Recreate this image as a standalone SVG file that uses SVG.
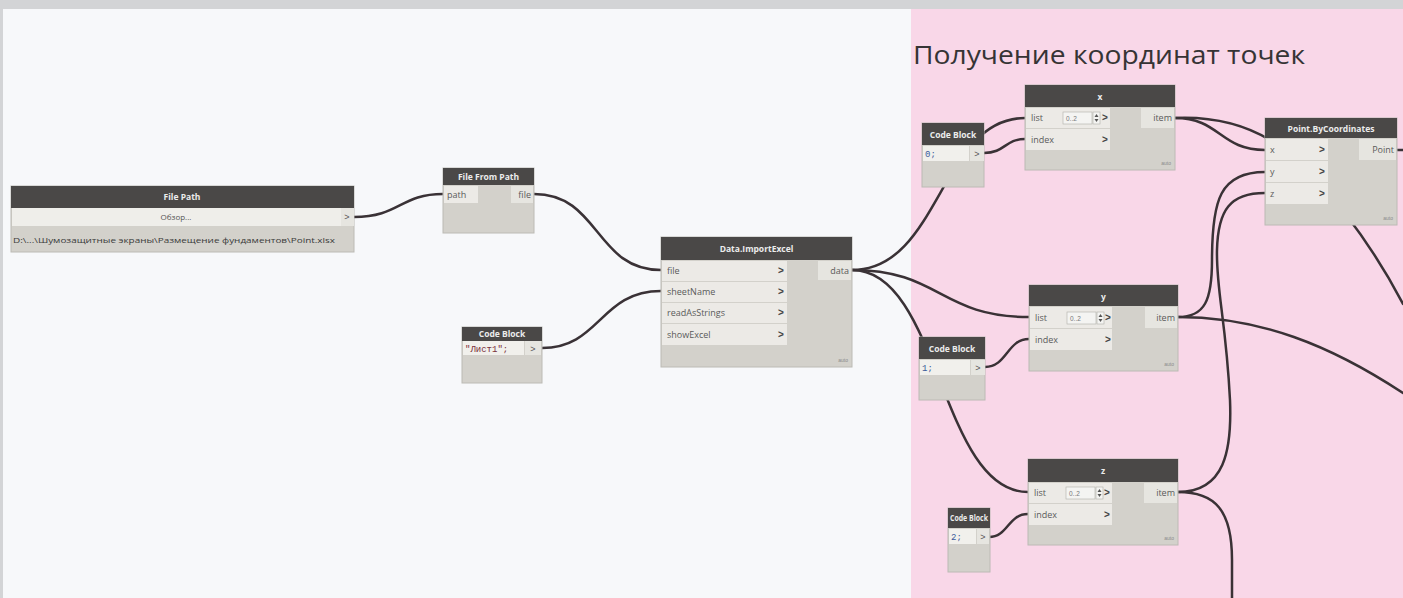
<svg xmlns="http://www.w3.org/2000/svg" width="1403" height="598" viewBox="0 0 1403 598">
<style>
.hdr{fill:#4a4847}
.body{fill:#d3d1cb;stroke:#bcbab4;stroke-width:1}
.port{fill:#eceae6}
.outp{fill:#e6e5e0}
.ht{font-family:"Open Sans","Liberation Sans",sans-serif;font-size:8.5px;font-weight:bold;fill:#ececec;text-anchor:middle}
.pt{font-family:"Open Sans","Liberation Sans",sans-serif;font-size:9px;fill:#5a5a5a}
.pe{font-family:"Open Sans","Liberation Sans",sans-serif;font-size:9px;fill:#5a5a5a;text-anchor:end}
.chev{font-family:"Liberation Sans",sans-serif;font-size:10px;font-weight:bold;fill:#444;text-anchor:middle}
.auto{font-family:"Liberation Sans",sans-serif;font-size:5px;fill:#8a8a8a;text-anchor:end}
.code{font-family:"Liberation Mono","DejaVu Sans Mono",monospace;font-size:9px;fill:#3a5a9a}
.field{fill:#f4f4f2;stroke:#b0aea8;stroke-width:0.6}
.wire{fill:none;stroke:#3a3236;stroke-width:2.5;stroke-linecap:round}
</style>
<rect x="0" y="0" width="1403" height="598" fill="#d3d4d6"/>
<rect x="3" y="9" width="908" height="589" fill="#f7f8fa"/>
<rect x="911" y="9" width="492" height="589" fill="#f9d7e8"/>
<text x="913" y="64" font-family="Open Sans, Liberation Sans, sans-serif" font-size="26" fill="#363435" textLength="392" lengthAdjust="spacingAndGlyphs">Получение координат точек</text>

<g id="connectors">
<path class="wire" d="M354,217 C400,217 400,194 443,194"/>
<path class="wire" d="M534,194 C600,194 595,270 661,270"/>
<path class="wire" d="M542,348 C600,348 600,291 661,291"/>
<path class="wire" d="M852,270 C940,270 940,118 1025,118"/>
<path class="wire" d="M984,153 C1005,153 1005,139 1025,139"/>
<path class="wire" d="M852,270 C940,270 940,317 1029,317"/>
<path class="wire" d="M852,270 C940,270 940,492 1028,492"/>
<path class="wire" d="M985,367 C1007,367 1007,339 1029,339"/>
<path class="wire" d="M989,537 C1008,537 1008,514 1028,514"/>
<path class="wire" d="M1175,118 C1220,118 1220,150 1265,150"/>
<path class="wire" d="M1175,118 C1220,116 1250,128 1270,140 C1320,170 1375,250 1403,304"/>
<path class="wire" d="M1178,317 C1205,317 1212,300 1212,260 C1212,200 1220,172 1265,172"/>
<path class="wire" d="M1178,317 C1260,317 1330,345 1403,393"/>
<path class="wire" d="M1178,492 C1225,492 1232,450 1230,400 C1226,320 1216,290 1217,250 C1218,210 1230,193 1265,193"/>
<path class="wire" d="M1178,492 C1215,492 1232,510 1232,560 L1232,598"/>
<path class="wire" d="M1397,150 L1403,150"/>
</g>

<g id="file-path">
<rect class="body" x="11" y="186" width="343" height="66"/>
<rect class="hdr" x="11" y="186" width="343" height="22"/>
<text class="ht" x="182" y="200">File Path</text>
<rect x="12" y="208" width="329" height="18" fill="#efeeea"/>
<text x="176" y="220" font-family="Open Sans, Liberation Sans, sans-serif" font-size="8" fill="#555" text-anchor="middle">Обзор...</text>
<rect class="outp" x="341" y="208" width="13" height="18"/>
<text x="347" y="220" font-family="Liberation Sans, sans-serif" font-size="9" fill="#555" text-anchor="middle">&gt;</text>
<text x="13" y="243" font-family="Open Sans, Liberation Sans, sans-serif" font-size="7" fill="#3a3a3a" textLength="322" lengthAdjust="spacingAndGlyphs">D:\...\Шумозащитные экраны\Размещение фундаментов\Point.xlsx</text>
</g>

<g id="file-from-path">
<rect class="body" x="443" y="168" width="91" height="65"/>
<rect class="hdr" x="443" y="168" width="91" height="17"/>
<text class="ht" x="488.5" y="180">File From Path</text>
<rect class="port" x="444" y="186" width="34" height="17"/>
<text class="pt" x="447" y="198">path</text>
<rect class="outp" x="511" y="186" width="22" height="17"/>
<text class="pe" x="531" y="198">file</text>
</g>

<g id="code-block-sheet">
<rect class="body" x="462" y="327" width="80" height="56"/>
<rect class="hdr" x="462" y="327" width="80" height="14"/>
<text class="ht" x="502" y="337" font-size="8">Code Block</text>
<rect x="463" y="341" width="61" height="14" fill="#f1f0ec"/>
<text x="465" y="352" font-family="Liberation Mono, DejaVu Sans Mono, monospace" font-size="9" fill="#7a2f3a">"Лист1";</text>
<rect class="outp" x="525" y="341" width="16" height="14"/>
<text x="533" y="352" font-family="Liberation Sans, sans-serif" font-size="9" fill="#555" text-anchor="middle">&gt;</text>
</g>

<g id="data-import-excel">
<rect class="body" x="661" y="237" width="191" height="130"/>
<rect class="hdr" x="661" y="237" width="191" height="23"/>
<text class="ht" x="756.5" y="252" font-size="9">Data.ImportExcel</text>
<rect class="port" x="662" y="261" width="125" height="20"/>
<rect class="port" x="662" y="282" width="125" height="20"/>
<rect class="port" x="662" y="303" width="125" height="20"/>
<rect class="port" x="662" y="324" width="125" height="21"/>
<text class="pt" x="667" y="274">file</text>
<text class="pt" x="667" y="295">sheetName</text>
<text class="pt" x="667" y="316">readAsStrings</text>
<text class="pt" x="667" y="338">showExcel</text>
<text class="chev" x="781" y="274">&gt;</text>
<text class="chev" x="781" y="295">&gt;</text>
<text class="chev" x="781" y="316">&gt;</text>
<text class="chev" x="781" y="338">&gt;</text>
<rect class="outp" x="818" y="261" width="33" height="19"/>
<text class="pe" x="849" y="274">data</text>
<text class="auto" x="848" y="362">auto</text>
</g>

<g id="code-block-0">
<rect class="body" x="922" y="123" width="62" height="64"/>
<rect class="hdr" x="922" y="123" width="62" height="22"/>
<text class="ht" x="953" y="138">Code Block</text>
<rect x="923" y="146" width="46" height="15" fill="#f1f0ec"/>
<text class="code" x="925" y="157">0;</text>
<rect class="outp" x="970" y="146" width="14" height="15"/>
<text x="977" y="157" font-family="Liberation Sans, sans-serif" font-size="9" fill="#555" text-anchor="middle">&gt;</text>
</g>

<g id="node-x">
<rect class="body" x="1025" y="85" width="150" height="85"/>
<rect class="hdr" x="1025" y="85" width="150" height="22"/>
<text class="ht" x="1100" y="100">x</text>
<rect class="port" x="1026" y="108" width="84" height="20"/>
<rect class="port" x="1026" y="129" width="84" height="21"/>
<text class="pt" x="1031" y="121">list</text>
<text class="pt" x="1031" y="143">index</text>
<rect class="field" x="1063" y="112" width="29" height="12"/>
<text x="1066" y="121" font-family="Liberation Sans, sans-serif" font-size="6.5" fill="#777">0..2</text>
<rect class="field" x="1093" y="112" width="7" height="12"/>
<polygon points="1094.5,117 1098.5,117 1096.5,114" fill="#555"/>
<polygon points="1094.5,119 1098.5,119 1096.5,122" fill="#555"/>
<text class="chev" x="1105" y="121">&gt;</text>
<text class="chev" x="1105" y="143">&gt;</text>
<rect class="outp" x="1141" y="108" width="33" height="20"/>
<text class="pe" x="1172" y="121">item</text>
<text class="auto" x="1171" y="165">auto</text>
</g>

<g id="point-by-coordinates">
<rect class="body" x="1265" y="118" width="132" height="107"/>
<rect class="hdr" x="1265" y="118" width="132" height="20"/>
<text class="ht" x="1331" y="132">Point.ByCoordinates</text>
<rect class="port" x="1266" y="139" width="62" height="21"/>
<rect class="port" x="1266" y="161" width="62" height="21"/>
<rect class="port" x="1266" y="183" width="62" height="21"/>
<text class="pt" x="1270" y="153">x</text>
<text class="pt" x="1270" y="175">y</text>
<text class="pt" x="1270" y="197">z</text>
<text class="chev" x="1322" y="153">&gt;</text>
<text class="chev" x="1322" y="175">&gt;</text>
<text class="chev" x="1322" y="197">&gt;</text>
<rect class="outp" x="1359" y="139" width="37" height="21"/>
<text class="pe" x="1394" y="153">Point</text>
<text class="auto" x="1393" y="220">auto</text>
</g>

<g id="code-block-1">
<rect class="body" x="919" y="337" width="66" height="63"/>
<rect class="hdr" x="919" y="337" width="66" height="22"/>
<text class="ht" x="952" y="352">Code Block</text>
<rect x="920" y="360" width="50" height="15" fill="#f1f0ec"/>
<text class="code" x="922" y="371">1;</text>
<rect class="outp" x="971" y="360" width="14" height="15"/>
<text x="978" y="371" font-family="Liberation Sans, sans-serif" font-size="9" fill="#555" text-anchor="middle">&gt;</text>
</g>

<g id="node-y">
<rect class="body" x="1029" y="285" width="149" height="86"/>
<rect class="hdr" x="1029" y="285" width="149" height="21"/>
<text class="ht" x="1103.5" y="300">y</text>
<rect class="port" x="1030" y="307" width="82" height="21"/>
<rect class="port" x="1030" y="329" width="82" height="21"/>
<text class="pt" x="1035" y="321">list</text>
<text class="pt" x="1035" y="343">index</text>
<rect class="field" x="1067" y="312" width="29" height="12"/>
<text x="1070" y="321" font-family="Liberation Sans, sans-serif" font-size="6.5" fill="#777">0..2</text>
<rect class="field" x="1097" y="312" width="7" height="12"/>
<polygon points="1098.5,317 1102.5,317 1100.5,314" fill="#555"/>
<polygon points="1098.5,319 1102.5,319 1100.5,322" fill="#555"/>
<text class="chev" x="1108" y="321">&gt;</text>
<text class="chev" x="1108" y="343">&gt;</text>
<rect class="outp" x="1145" y="307" width="32" height="21"/>
<text class="pe" x="1175" y="321">item</text>
<text class="auto" x="1174" y="366">auto</text>
</g>

<g id="code-block-2">
<rect class="body" x="948" y="508" width="42" height="64"/>
<rect class="hdr" x="948" y="508" width="42" height="20"/>
<text class="ht" x="969" y="521" font-size="7" textLength="38" lengthAdjust="spacingAndGlyphs">Code Block</text>
<rect x="949" y="529" width="27" height="15" fill="#f1f0ec"/>
<text class="code" x="951" y="540">2;</text>
<rect class="outp" x="977" y="529" width="12" height="15"/>
<text x="983" y="540" font-family="Liberation Sans, sans-serif" font-size="9" fill="#555" text-anchor="middle">&gt;</text>
</g>

<g id="node-z">
<rect class="body" x="1028" y="459" width="150" height="86"/>
<rect class="hdr" x="1028" y="459" width="150" height="23"/>
<text class="ht" x="1103" y="474">z</text>
<rect class="port" x="1029" y="483" width="83" height="20"/>
<rect class="port" x="1029" y="504" width="83" height="21"/>
<text class="pt" x="1034" y="496">list</text>
<text class="pt" x="1034" y="518">index</text>
<rect class="field" x="1066" y="487" width="29" height="12"/>
<text x="1069" y="496" font-family="Liberation Sans, sans-serif" font-size="6.5" fill="#777">0..2</text>
<rect class="field" x="1096" y="487" width="7" height="12"/>
<polygon points="1097.5,492 1101.5,492 1099.5,489" fill="#555"/>
<polygon points="1097.5,494 1101.5,494 1099.5,497" fill="#555"/>
<text class="chev" x="1107" y="496">&gt;</text>
<text class="chev" x="1107" y="518">&gt;</text>
<rect class="outp" x="1144" y="483" width="33" height="20"/>
<text class="pe" x="1175" y="496">item</text>
<text class="auto" x="1174" y="540">auto</text>
</g>
</svg>
